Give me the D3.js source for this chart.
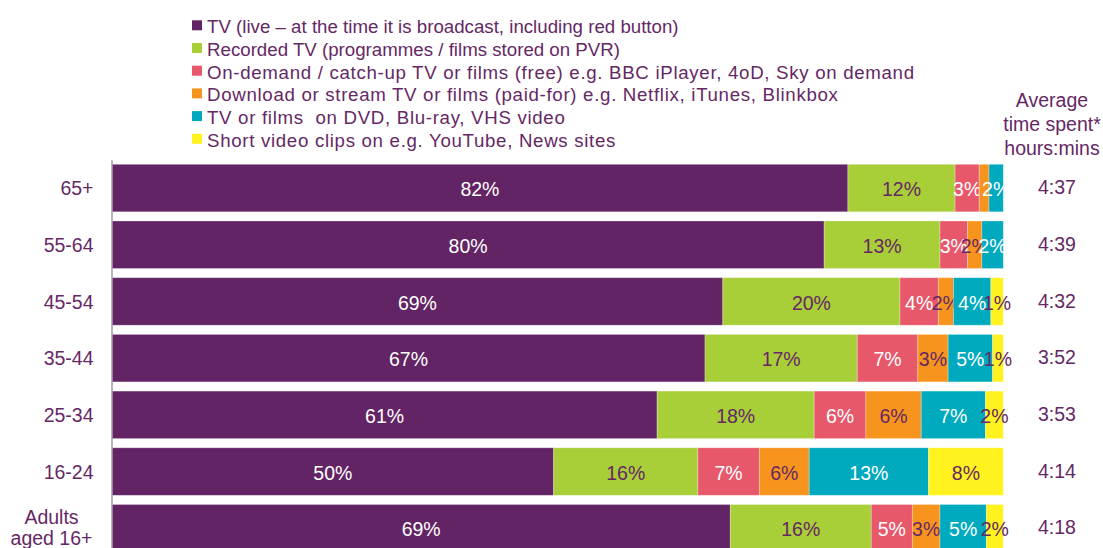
<!DOCTYPE html>
<html>
<head>
<meta charset="utf-8">
<script src="https://cdn.jsdelivr.net/npm/d3@7"></script>
<style>
  body { margin: 0; background: #fff; }
  svg { font-family: "Liberation Sans", Arial, sans-serif; }
</style>
</head>
<body>
<div id="chart"></div>
<script>
/* DATA */
const categories = ["65+", "55-64", "45-54", "35-44", "25-34", "16-24", "Adults aged 16+"];
const liveTV     = [82.4, 79.9, 68.6, 66.6, 61.1, 49.6, 69.3];
const recordedTV = [12.0, 13.0, 19.9, 17.1, 17.6, 16.2, 15.8];
const onDemand   = [2.7, 3.1, 4.3, 6.8, 5.8, 6.9, 4.6];
const paidFor    = [1.1, 1.6, 1.7, 3.4, 6.2, 5.6, 3.1];
const dvd        = [1.6, 2.4, 4.2, 5.0, 7.2, 13.4, 5.2];
const clips      = [0, 0, 1.4, 1.2, 2.0, 8.4, 1.9];
const avgTime    = ["4:37", "4:39", "4:32", "3:52", "3:53", "4:14", "4:18"];

const seriesKeys = ["live", "recorded", "ondemand", "paid", "dvd", "clips"];
const seriesNames = [
  "TV (live \u2013 at the time it is broadcast, including red button)",
  "Recorded TV (programmes / films stored on PVR)",
  "On-demand / catch-up TV or films (free) e.g. BBC iPlayer, 4oD, Sky on demand",
  "Download or stream TV or films (paid-for) e.g. Netflix, iTunes, Blinkbox",
  "TV or films  on DVD, Blu-ray, VHS video",
  "Short video clips on e.g. YouTube, News sites"
];
// segment labels left out in the original
const noLabel = [["65+", "paid"]];

/* STYLE */
const colors = ["#622464", "#a8ce38", "#e8586b", "#f7941e", "#00aabe", "#fff21e"];
const darkKeys = ["live", "ondemand", "dvd"];
const textPurple = "#652865";
const width = 1103, height = 548;
const margin = { left: 112, right: 99.7 };

const table = categories.map((c, i) => ({
  cat: c,
  live: liveTV[i], recorded: recordedTV[i], ondemand: onDemand[i],
  paid: paidFor[i], dvd: dvd[i], clips: clips[i]
}));

const stacked = d3.stack().keys(seriesKeys).offset(d3.stackOffsetExpand)(table);

const svg = d3.select("#chart").append("svg")
  .attr("width", width).attr("height", height);

const xScale = d3.scaleLinear().domain([0, 1]).range([margin.left, width - margin.right]);
const yScale = d3.scaleBand().domain(categories)
  .range([159.7, 159.7 + 7 * 56.7]).paddingInner(0.162).paddingOuter(0.081);

const color = d3.scaleOrdinal().domain(seriesKeys).range(colors);

// bars
const layer = svg.selectAll("g.layer").data(stacked).join("g")
  .attr("class", "layer").attr("fill", d => color(d.key));

layer.selectAll("rect").data(d => d).join("rect")
  .attr("x", d => xScale(d[0]))
  .attr("y", d => yScale(d.data.cat))
  .attr("width", d => xScale(d[1]) - xScale(d[0]))
  .attr("height", yScale.bandwidth())
  .attr("stroke", "#fff").attr("stroke-opacity", 0.35).attr("stroke-width", 0.8);

// segment labels
layer.each(function (s) {
  const key = s.key;
  d3.select(this).selectAll("text")
    .data(s.filter(d => d.data[key] > 0 && !noLabel.some(n => n[0] === d.data.cat && n[1] === key)))
    .join("text")
    .attr("x", d => (xScale(d[0]) + xScale(d[1])) / 2)
    .attr("y", d => yScale(d.data.cat) + yScale.bandwidth() / 2)
    .attr("dy", "0.42em")
    .attr("text-anchor", "middle")
    .attr("font-size", 19.5)
    .attr("fill", darkKeys.includes(key) ? "#fff" : textPurple)
    .text(d => Math.round(d.data[key]) + "%");
});

// category axis
const yAxis = svg.append("g")
  .attr("transform", `translate(${margin.left - 0.5},0)`)
  .call(d3.axisLeft(yScale).tickSize(0).tickPadding(18));
yAxis.select(".domain").attr("stroke", "#a496a8").attr("stroke-width", 1.5);
yAxis.selectAll(".tick text")
  .attr("font-size", 19.5).attr("fill", textPurple)
  .attr("font-family", "Liberation Sans, Arial, sans-serif")
  .attr("dy", "0.37em")
  .each(function (d) {
    if (d === "Adults aged 16+") {
      const t = d3.select(this).text(null).attr("text-anchor", "middle").attr("dy", null);
      t.append("tspan").attr("x", -60).attr("dy", "-0.22em").text("Adults");
      t.append("tspan").attr("x", -60).attr("dy", "1.1em").text("aged 16+");
    }
  });

// average time column
svg.append("g").selectAll("text").data(categories).join("text")
  .attr("x", 1057)
  .attr("y", d => yScale(d) + yScale.bandwidth() / 2)
  .attr("dy", "0.32em")
  .attr("text-anchor", "middle")
  .attr("font-size", 19.5).attr("fill", textPurple)
  .text((d, i) => avgTime[i]);

svg.append("g").selectAll("text")
  .data(["Average", "time spent*", "hours:mins"]).join("text")
  .attr("x", 1052)
  .attr("y", (d, i) => 107 + i * 24)
  .attr("text-anchor", "middle")
  .attr("font-size", 19.5).attr("fill", textPurple)
  .text(d => d);

// legend
const legend = svg.append("g").selectAll("g").data(seriesKeys).join("g")
  .attr("transform", (d, i) => `translate(192,${33.3 + i * 22.7})`);
legend.append("rect")
  .attr("x", 0).attr("y", -13).attr("width", 10).attr("height", 10)
  .attr("fill", d => color(d));
legend.append("text")
  .attr("x", 15).attr("y", 0)
  .attr("font-size", 18.7).attr("fill", textPurple)
  .attr("letter-spacing", (d, i) => i < 2 ? 0 : 0.68)
  .style("white-space", "pre")
  .text((d, i) => seriesNames[i]);
</script>
</body>
</html>
